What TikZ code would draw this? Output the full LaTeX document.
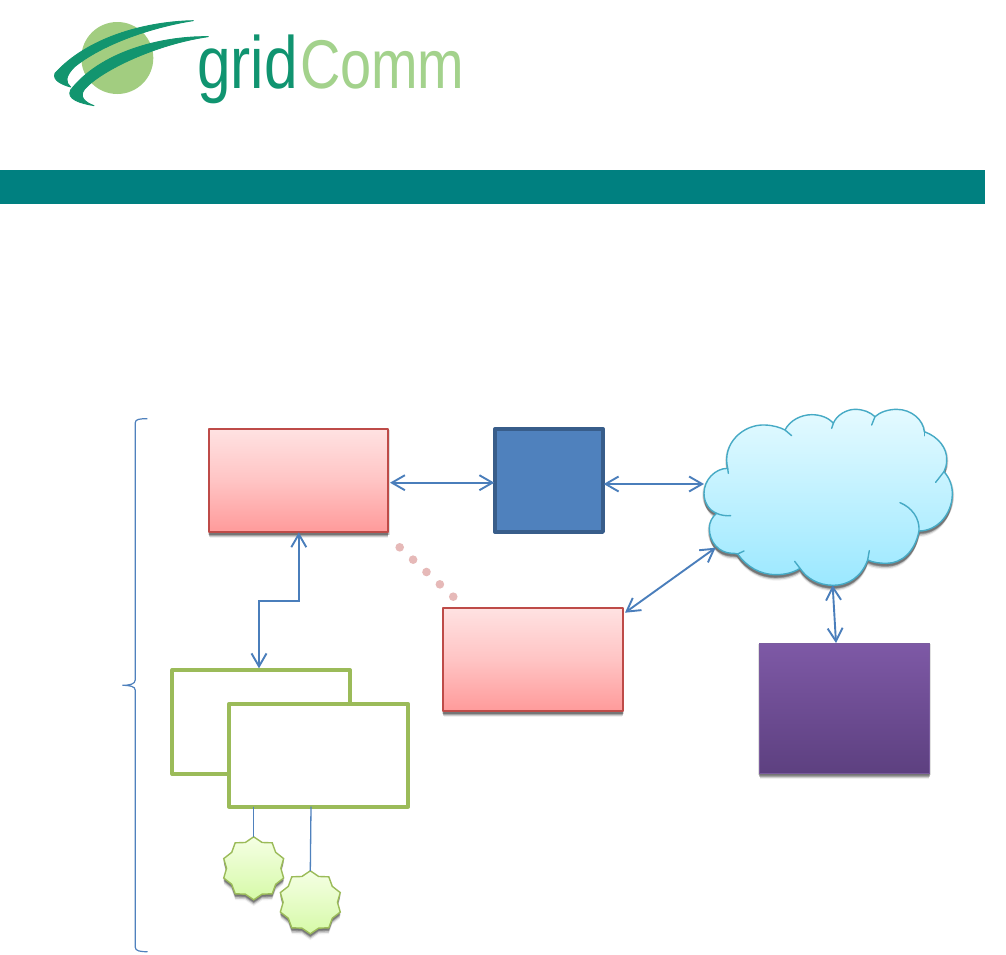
\documentclass[tikz,border=0pt]{standalone}
\usepackage{fontspec}
\newfontfamily\gridfont[FakeStretch=0.816]{Liberation Sans}
\newfontfamily\commfont[FakeStretch=0.81]{Liberation Sans}
\usetikzlibrary{arrows.meta,shapes.geometric,shadows}
\definecolor{teal1}{HTML}{008080}
\definecolor{linkblue}{HTML}{4A7EBB}
\definecolor{swoosh}{HTML}{12956F}
\definecolor{orb}{HTML}{A2CD80}
\definecolor{commgreen}{HTML}{A3D28C}
\tikzset{
  softshadow/.style={
    general shadow={shadow scale=1.014,shadow xshift=0pt,shadow yshift=-1.5pt,fill=black,opacity=.12},
    general shadow={shadow scale=1.008,shadow xshift=0pt,shadow yshift=-2.5pt,fill=black,opacity=.18},
    general shadow={shadow scale=1.002,shadow xshift=0pt,shadow yshift=-3.5pt,fill=black,opacity=.2},
    general shadow={shadow scale=.998,shadow xshift=0pt,shadow yshift=-5pt,fill=black,opacity=.14},
    general shadow={shadow scale=.994,shadow xshift=0pt,shadow yshift=-6.5pt,fill=black,opacity=.06}},
  box/.style={rectangle,inner sep=0pt,outer sep=0pt,line join=round},
  redbox/.style={box,softshadow,draw={rgb,255:red,190;green,75;blue,72},line width=1.7pt,top color={rgb,255:red,255;green,226;blue,226},bottom color={rgb,255:red,255;green,154;blue,154},middle color={rgb,255:red,255;green,196;blue,196}},
  purplebox/.style={box,softshadow,draw={rgb,255:red,122;green,92;blue,158},line width=.8pt,top color={rgb,255:red,126;green,89;blue,166},bottom color={rgb,255:red,93;green,64;blue,128}},
  bluebox/.style={box,draw={rgb,255:red,56;green,93;blue,138},line width=3.4pt,fill={rgb,255:red,79;green,129;blue,189}},
  greenbox/.style={box,draw={rgb,255:red,155;green,187;blue,89},line width=3.8pt,fill=white},
  burst/.style={star,softshadow,star points=10,star point ratio=1.16,minimum size=63pt,inner sep=0pt,outer sep=0pt,line width=1.4pt,draw={rgb,255:red,155;green,187;blue,89},top color={rgb,255:red,245;green,255;blue,228},bottom color={rgb,255:red,214;green,250;blue,168}},
  link/.style={draw=linkblue,line width=1.9pt,{Straight Barb[length=13pt,width=15pt,line width=1.9pt]}-{Straight Barb[length=13pt,width=15pt,line width=1.9pt]}},
  thinlink/.style={draw={rgb,255:red,79;green,129;blue,189},line width=1.3pt},
  bracecurve/.style={draw={rgb,255:red,79;green,129;blue,189},line width=1.2pt},
  cloudedge/.style={draw={rgb,255:red,70;green,170;blue,197},line width=1.4pt,line join=round},
  cloudtail/.style={cloudedge,line cap=round},
  dotrow/.style={draw={rgb,255:red,230;green,185;blue,184},line width=8.6pt,line cap=round,dash pattern=on 0.01pt off 18.2pt},
  logotext/.style={anchor=base west,inner sep=0pt,outer sep=0pt},
  swooshfill/.style={fill=swoosh,draw=swoosh,line width=.9pt,line join=round}
}
\begin{document}
\begin{tikzpicture}[x=1pt,y=-1pt]
\useasboundingbox (0,0) rectangle (1006,954);
\fill[white] (0,0) rectangle (1006,954);
% logo
\fill[orb] (117.3,58) circle[radius=36];
\begin{scope}[shift={(50,15)},x=0.3333pt,y=-0.3333pt]
\path[swooshfill] (430,17) .. controls (280,20) and (110,70) .. (15,175)
  .. controls (6,197) and (40,210) .. (62,216)
  .. controls (46,203) and (44,185) .. (74,155)
  .. controls (170,78) and (330,32) .. (430,17) -- cycle;
\path[swooshfill] (475,65) .. controls (330,63) and (150,112) .. (62,225)
  .. controls (48,252) and (90,265) .. (132,272)
  .. controls (104,262) and (86,245) .. (104,222)
  .. controls (155,165) and (320,87) .. (475,65) -- cycle;
\end{scope}
\node[logotext,text={rgb,255:red,16;green,148;blue,112},font=\fontsize{74}{74}\selectfont] (grid) at (197,88.5) {\gridfont grid};
\node[logotext,text=commgreen,font=\fontsize{69}{69}\selectfont] (comm) at (300,88.5) {\commfont Comm};
% banner
\fill[teal1] (0,170) rectangle (985,204);
% brace
\draw[bracecurve] (147.3,418.7) .. controls (140,418.7) and (135.2,419) .. (135.2,423)
  -- (135.2,680) .. controls (135.2,684) and (130,685.3) .. (122.3,685.3)
  .. controls (130,685.3) and (135.2,686.5) .. (135.2,690)
  -- (135.2,947) .. controls (135.2,951) and (140,951.7) .. (147.5,951.7);
% boxes
\node[redbox,minimum width=179pt,minimum height=103.6pt] (red1) at (298.8,480.5) {};
\node[redbox,minimum width=179.4pt,minimum height=103.6pt] (red2) at (533,659.5) {};
\node[purplebox,minimum width=170pt,minimum height=130pt] (purple) at (844.5,708) {};
\node[bluebox,minimum width=108pt,minimum height=103pt] (blue) at (549,480.5) {};
\node[greenbox,minimum width=177.7pt,minimum height=104pt] (green1) at (261.2,722) {};
\node[greenbox,minimum width=179pt,minimum height=103pt] (green2) at (318.5,755.2) {};
\node[burst] (star1) at (253.7,868.3) {};
\node[burst] (star2) at (310.3,902.3) {};
% cloud
\begin{scope}[shift={(690,400)},x=0.3333pt,y=-0.3333pt]
\path[cloudedge,softshadow,top color={rgb,255:red,228;green,250;blue,255},bottom color={rgb,255:red,155;green,232;blue,255}]
  (113,205) .. controls (95,130) and (160,72) .. (225,75)
  .. controls (250,76) and (270,82) .. (285,90)
  .. controls (300,60) and (335,44) .. (365,44)
  .. controls (390,44) and (415,52) .. (430,70)
  .. controls (440,45) and (470,28) .. (495,28)
  .. controls (520,28) and (540,36) .. (555,50)
  .. controls (570,36) and (595,28) .. (620,28)
  .. controls (665,28) and (700,60) .. (703,95)
  .. controls (745,110) and (772,145) .. (770,180)
  .. controls (770,195) and (767,205) .. (762,215)
  .. controls (780,235) and (788,260) .. (787,285)
  .. controls (785,345) and (740,393) .. (687,393)
  .. controls (675,455) and (635,490) .. (590,490)
  .. controls (570,490) and (550,488) .. (533,480)
  .. controls (515,530) and (475,556) .. (430,556)
  .. controls (385,556) and (350,535) .. (330,505)
  .. controls (310,518) and (285,524) .. (258,524)
  .. controls (210,524) and (170,500) .. (143,462)
  .. controls (135,460) and (130,460) .. (125,460)
  .. controls (85,458) and (58,425) .. (58,385)
  .. controls (58,368) and (65,352) .. (80,340)
  .. controls (55,330) and (42,305) .. (42,280)
  .. controls (42,240) and (75,205) .. (113,205) -- cycle;
\draw[cloudtail] (113,205) -- (115,220);
\draw[cloudtail] (285,90) -- (305,107);
\draw[cloudtail] (430,70) -- (425,85);
\draw[cloudtail] (555,50) -- (545,75);
\draw[cloudtail] (703,95) -- (703,107);
\draw[cloudtail] (762,215) -- (737,247);
\draw[cloudtail] (630,308) .. controls (665,322) and (690,355) .. (687,393);
\draw[cloudtail] (533,480) -- (538,452);
\draw[cloudtail] (330,505) -- (314,484);
\draw[cloudtail] (143,462) -- (162,453);
\draw[cloudtail] (80,340) .. controls (92,346) and (108,348) .. (122,347);
\coordinate (cloudW) at (42,252);
\coordinate (cloudSW) at (77,443);
\coordinate (cloudS) at (428,556);
\end{scope}
% connectors
\draw[link] ([xshift=1.7pt,yshift=-2.2pt]red1.east) -- ([xshift=-.7pt,yshift=-2.2pt]blue.west);
\draw[link] ([xshift=.7pt,yshift=-3.5pt]blue.east) -- (cloudW);
\draw[link] ([xshift=2.3pt,yshift=-5pt]red2.north east) -- (cloudSW);
\draw[link] (cloudS) -- ([xshift=-8.5pt]purple.north);
\coordinate (elbow) at (259,600.7);
\draw[link] (red1.south) -- (red1.south |- elbow) -- (elbow) -- ([xshift=-2.2pt,yshift=1.7pt]green1.north);
\draw[thinlink] (green2.south -| star1.north) -- (star1.north);
\draw[thinlink] ([xshift=-7.5pt]green2.south) -- (star2.north);
\coordinate (dotA) at (399.7,547.3);
\coordinate (dotB) at (453.5,596.9);
\draw[dotrow] (dotA) -- (dotB);
\end{tikzpicture}
\end{document}
